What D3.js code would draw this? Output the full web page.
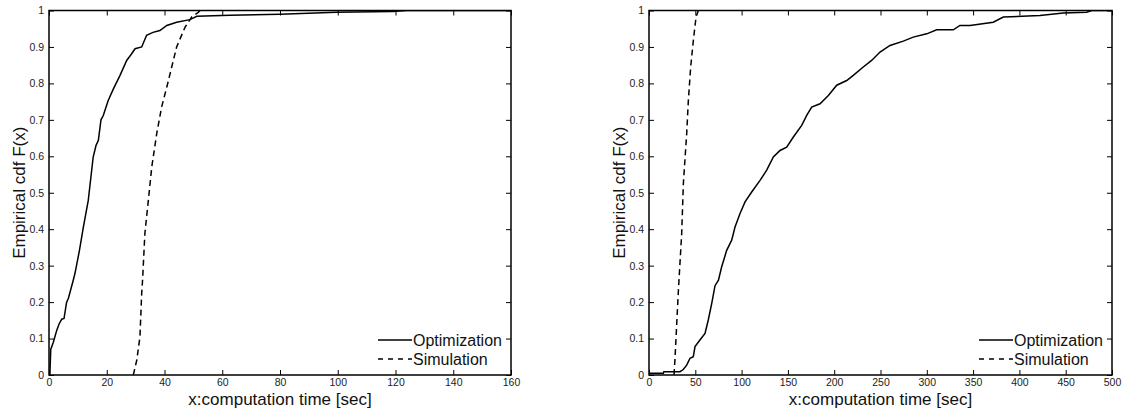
<!DOCTYPE html>
<html>
<head>
<meta charset="utf-8">
<script src="https://cdn.jsdelivr.net/npm/d3@7"></script>
<style>
  body { margin: 0; background: #fff; }
  svg { display: block; font-family: "Liberation Sans", Arial, sans-serif; }
</style>
</head>
<body>
<div id="chart"></div>
<script>
// ECDF samples (time in sec, cdf value)
let leftOptTime = [0.3, 0.6, 1.5, 2.7, 3.5, 4.4, 5.2, 6.1, 6.7, 8.4, 9.0, 10.5, 11.9, 13.6, 15.3, 16.3, 17.1, 18.0,
                   18.8, 20.5, 22.3, 24.6, 26.9, 28.5, 29.8, 32.1, 33.8, 36, 38.4, 40.8, 44.2, 48.8, 51.2, 62.7,
                   80, 99.6, 119, 124, 160]
let leftOptCdf  = [0, 0.07, 0.09, 0.123, 0.14, 0.153, 0.155, 0.2, 0.21, 0.26, 0.279, 0.34, 0.406, 0.479, 0.598, 0.63, 0.644, 0.70,
                   0.712, 0.753, 0.785, 0.822, 0.863, 0.88, 0.895, 0.9, 0.932, 0.94, 0.945, 0.959, 0.968, 0.975, 0.984, 0.987,
                   0.99, 0.995, 0.997, 1, 1]

let leftSimTime = [29.2, 30.4, 31.5, 32.1, 32.4, 33.2, 34.4, 35.6, 37.3, 39.0, 40.8, 42.5, 44.2, 47.1, 49.4, 51.7, 52.3]
let leftSimCdf  = [0, 0.041, 0.105, 0.224, 0.26, 0.388, 0.479, 0.571, 0.662, 0.735, 0.79, 0.845, 0.9, 0.954, 0.982, 0.995, 1]

let rightOptTime = [0, 15.5, 16, 33.5, 37, 40.7, 44.3, 47.8, 49.7, 55, 60.5, 64, 67.7, 71.3, 75, 78.5, 83.9, 89.3, 92.9,
                    98.3, 103.7, 110.9, 119.9, 127.1, 134.3, 141.5, 148.7, 155.9, 164.9, 170.3, 175.7, 184.7, 193.7,
                    202.7, 213.5, 220.6, 231.4, 240.4, 249.5, 260.3, 274.6, 285.4, 299.9, 310.7, 328.6, 335.8, 346.7,
                    371.8, 382.6, 422.2, 447.4, 472.7, 478, 500]
let rightOptCdf  = [0.005, 0.005, 0.009, 0.009, 0.015, 0.027, 0.046, 0.05, 0.078, 0.096, 0.114, 0.151, 0.196, 0.245, 0.26,
                    0.297, 0.342, 0.37, 0.406, 0.443, 0.475, 0.502, 0.534, 0.562, 0.598, 0.616, 0.625, 0.653, 0.685, 0.712,
                    0.735, 0.744, 0.767, 0.795, 0.808, 0.822, 0.845, 0.863, 0.886, 0.904, 0.916, 0.927, 0.936, 0.947,
                    0.947, 0.959, 0.959, 0.968, 0.982, 0.986, 0.993, 0.995, 1, 1]

let rightSimTime = [27, 28, 31.7, 35.3, 37.1, 40.7, 42.5, 45.0, 47.9, 50.8, 53.3]
let rightSimCdf  = [0, 0.041, 0.23, 0.388, 0.525, 0.662, 0.753, 0.845, 0.918, 0.982, 1]

let leftXTicks  = [0, 20, 40, 60, 80, 100, 120, 140, 160]
let rightXTicks = [0, 50, 100, 150, 200, 250, 300, 350, 400, 450, 500]
let yTicks      = [0, 0.1, 0.2, 0.3, 0.4, 0.5, 0.6, 0.7, 0.8, 0.9, 1]
let seriesNames = ["Optimization", "Simulation"]

let width = 1128, height = 410

let svg = d3.select("#chart").append("svg")
  .attr("width", width)
  .attr("height", height)

function drawPanel(x0, x1, xMax, xTicks, optT, optF, simT, simF, id) {
  let top = 10.5, bottom = 375
  let x = d3.scaleLinear().domain([0, xMax]).range([x0, x1])
  let y = d3.scaleLinear().domain([0, 1]).range([bottom, top])

  let g = svg.append("g")

  g.append("clipPath").attr("id", "clip" + id)
    .append("rect").attr("x", x0).attr("y", top).attr("width", x1 - x0).attr("height", bottom - top)

  // axes with inner ticks on all four sides (matlab box)
  let fmt = d => d3.format("")(+d.toFixed(2))
  g.append("g").attr("transform", "translate(0," + bottom + ")")
    .call(d3.axisBottom(x).tickValues(xTicks).tickSizeInner(-5).tickSizeOuter(0).tickPadding(4).tickFormat(fmt))
  g.append("g").attr("transform", "translate(0," + top + ")")
    .call(d3.axisTop(x).tickValues(xTicks).tickSizeInner(-5).tickSizeOuter(0).tickFormat(""))
  g.append("g").attr("transform", "translate(" + x0 + ",0)")
    .call(d3.axisLeft(y).tickValues(yTicks).tickSizeInner(-5).tickSizeOuter(0).tickPadding(5).tickFormat(fmt))
  g.append("g").attr("transform", "translate(" + x1 + ",0)")
    .call(d3.axisRight(y).tickValues(yTicks).tickSizeInner(-5).tickSizeOuter(0).tickFormat(""))

  g.selectAll(".domain").remove()
  g.selectAll(".tick line").attr("stroke", "#000").attr("stroke-width", 1)
  g.selectAll(".tick text").attr("fill", "#222").style("font-size", "10.5px")

  g.append("rect")
    .attr("x", x0).attr("y", top).attr("width", x1 - x0).attr("height", bottom - top)
    .attr("fill", "none").attr("stroke", "#000").attr("stroke-width", 1.5)

  let line = d3.line().x(d => x(d[0])).y(d => y(d[1]))

  g.append("path")
    .attr("clip-path", "url(#clip" + id + ")")
    .attr("d", line(d3.zip(optT, optF)))
    .attr("fill", "none").attr("stroke", "#000").attr("stroke-width", 1.5)

  g.append("path")
    .attr("clip-path", "url(#clip" + id + ")")
    .attr("d", line(d3.zip(simT, simF)))
    .attr("fill", "none").attr("stroke", "#000").attr("stroke-width", 1.5)
    .attr("stroke-dasharray", "6,4")

  // axis labels
  g.append("text")
    .attr("x", (x0 + x1) / 2).attr("y", 405)
    .attr("text-anchor", "middle").style("font-size", "17px").attr("fill", "#111")
    .text("x:computation time [sec]")
  g.append("text")
    .attr("transform", "translate(" + (x0 - 24) + "," + ((top + bottom) / 2) + ") rotate(-90)")
    .attr("text-anchor", "middle").style("font-size", "17px").attr("fill", "#111")
    .text("Empirical cdf F(x)")

  // legend
  let legY = [340, 359]
  seriesNames.forEach(function(name, i) {
    g.append("line")
      .attr("x1", x1 - 133).attr("x2", x1 - 99)
      .attr("y1", legY[i]).attr("y2", legY[i])
      .attr("stroke", "#000").attr("stroke-width", 1.5)
      .attr("stroke-dasharray", i === 1 ? "5,5" : null)
    g.append("text")
      .attr("x", x1 - 98).attr("y", legY[i] + 5.5)
      .style("font-size", "16px").attr("fill", "#111")
      .text(name)
  })
}

drawPanel(49, 511, 160, leftXTicks, leftOptTime, leftOptCdf, leftSimTime, leftSimCdf, "L")
drawPanel(649, 1112, 500, rightXTicks, rightOptTime, rightOptCdf, rightSimTime, rightSimCdf, "R")
</script>
</body>
</html>
